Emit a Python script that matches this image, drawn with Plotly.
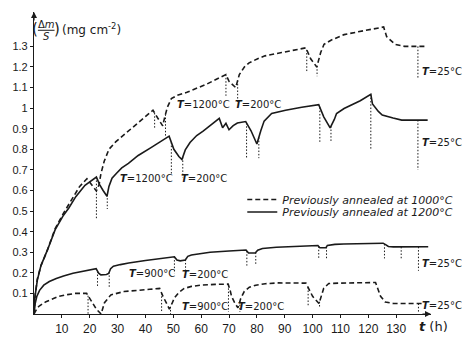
import numpy as np
import plotly.graph_objects as go

# ---- mass gain curves, time t in hours, Δm/S in mg cm^-2 ----
# upper dashed: previously annealed at 1000 °C, cycled 1200 °C / 200 °C
t_d1 = [0, 0.4, 1.2, 2.5, 4.8, 7.6, 10.6, 13.5, 16.4, 19.0, 20.6, 22.4,
        23.4, 24.0, 25.2, 26.9, 29.3, 32.8, 36.3, 39.8, 42.7,
        44.4, 46.2, 47.0, 47.9, 49.3, 51.4, 54.9, 61.9, 68.9,
        70.0, 72.4, 73.7, 75.5, 77.2, 80.3, 82.9, 88.9, 97.6,
        99.3, 101.5, 102.9, 104.1, 106.6, 111.3, 118.3, 125.5,
        126.6, 128.3, 129.6, 133.0, 141.0]
v_d1 = [0, 0.09, 0.17, 0.235, 0.31, 0.415, 0.49, 0.555, 0.62, 0.657, 0.63, 0.598,
        0.63, 0.68, 0.742, 0.80, 0.836, 0.875, 0.914, 0.955, 0.99,
        0.952, 0.914, 0.96, 1.005, 1.046, 1.062, 1.077, 1.116, 1.163,
        1.13, 1.10, 1.163, 1.20, 1.22, 1.24, 1.254, 1.27, 1.293,
        1.24, 1.20, 1.27, 1.31, 1.33, 1.357, 1.376, 1.394,
        1.347, 1.326, 1.31, 1.30, 1.30]

# upper solid: previously annealed at 1200 °C, cycled 1200 °C / 200 °C
t_s1 = [0, 0.3, 1.2, 2.5, 4.8, 7.6, 10.6, 12.5, 15.0, 18.3, 22.4,
        23.5, 24.8, 26.2, 26.9, 28.0, 29.8, 31.5, 33.9, 37.4, 42.0, 48.5,
        50.2, 52.0, 53.1, 54.3, 56.0, 58.4, 60.7, 63.6, 66.5,
        67.7, 68.9, 70.0, 71.5, 73.0, 76.0,
        77.9, 80.0, 81.4, 82.6, 85.3, 90.3, 96.1, 102.2,
        104.0, 106.3, 107.8, 108.6, 111.3, 113.3, 117.1, 120.9,
        121.5, 123.6, 125.0, 128.9, 132.0, 141.3]
v_s1 = [0, 0.08, 0.165, 0.235, 0.31, 0.41, 0.48, 0.515, 0.57, 0.625, 0.665,
        0.63, 0.60, 0.572, 0.62, 0.66, 0.686, 0.71, 0.732, 0.77, 0.808, 0.864,
        0.80, 0.765, 0.75, 0.797, 0.833, 0.867, 0.888, 0.92, 0.95,
        0.905, 0.926, 0.895, 0.915, 0.928, 0.935,
        0.89, 0.826, 0.89, 0.937, 0.974, 0.99, 1.004, 1.017,
        0.958, 0.904, 0.945, 0.974, 0.998, 1.012, 1.036, 1.067,
        1.02, 0.984, 0.966, 0.952, 0.942, 0.942]

# lower solid: cycled 900 °C / 200 °C
t_s2 = [0, 0.4, 1.0, 2.0, 3.5, 5.5, 8.0, 10.6, 14.0, 18.0, 22.3,
        23.2, 24.0, 26.0, 26.8, 27.5, 28.5, 31.0, 34.0, 40.0, 45.0, 50.4,
        51.3, 52.5, 54.3, 55.2, 56.5, 60.0, 63.2, 70.0, 76.1,
        77.0, 79.4, 80.3, 82.0, 87.0, 92.5, 101.9,
        102.6, 104.8, 105.3, 108.0, 111.2, 118.0, 125.3,
        126.2, 127.2, 129.0, 133.0, 141.5]
v_s2 = [0, 0.05, 0.085, 0.115, 0.14, 0.158, 0.172, 0.185, 0.198, 0.21, 0.22,
        0.198, 0.19, 0.192, 0.197, 0.22, 0.232, 0.24, 0.248, 0.26, 0.27, 0.278,
        0.262, 0.258, 0.262, 0.28, 0.287, 0.295, 0.30, 0.306, 0.311,
        0.296, 0.296, 0.31, 0.318, 0.324, 0.327, 0.333,
        0.322, 0.322, 0.333, 0.338, 0.34, 0.342, 0.344,
        0.337, 0.328, 0.326, 0.326, 0.327]

# lower dashed: cycled 900 °C / 200 °C
t_d2 = [0, 0.5, 1.2, 2.0, 4.3, 7.0, 9.0, 12.0, 14.8, 18.9,
        20.6, 22.4, 24.1, 25.3, 27.6, 32.3, 41.6, 45.1,
        46.3, 47.5, 48.6, 49.5, 50.4, 52.0, 53.9, 56.5, 59.8, 65.0, 69.7,
        70.4, 70.9, 72.0, 73.2, 74.2, 75.5, 77.3, 79.6, 83.0, 87.8, 97.6,
        99.0, 100.0, 102.3, 103.2, 104.0, 105.8, 109.6, 122.6,
        123.4, 124.4, 126.1, 129.0, 134.0, 140.0]
v_d2 = [0, 0.012, 0.03, 0.04, 0.06, 0.075, 0.086, 0.094, 0.10, 0.10,
        0.062, 0.023, 0.0, 0.055, 0.093, 0.109, 0.12, 0.124,
        0.086, 0.05, 0.024, 0.05, 0.078, 0.105, 0.124, 0.134, 0.14, 0.144, 0.145,
        0.115, 0.086, 0.055, 0.03, 0.075, 0.11, 0.13, 0.14, 0.147, 0.151, 0.15,
        0.115, 0.086, 0.051, 0.09, 0.125, 0.148, 0.15, 0.153,
        0.12, 0.086, 0.058, 0.051, 0.051, 0.051]

# temperature change marks: time and lower end of each dotted marker
drop_d1_t = [43.3, 47.2, 68.9, 73.1, 97.9, 101.6, 137.8]
drop_d1_v = [0.898, 0.859, 1.06, 1.03, 1.178, 1.155, 1.147]
drop_s1_t = [22.4, 26.3, 49.3, 53.4, 76.3, 80.7, 102.6, 106.6, 120.9, 137.8]
drop_s1_v = [0.46, 0.51, 0.68, 0.664, 0.757, 0.757, 0.833, 0.833, 0.80, 0.70]
drop_s2_t = [22.8, 27.0, 50.4, 54.4, 76.4, 79.6, 102.2, 105.0, 125.8, 131.8, 138.0]
drop_s2_v = [0.13, 0.13, 0.197, 0.197, 0.235, 0.235, 0.27, 0.27, 0.27, 0.27, 0.21]
drop_d2_t = [19.4, 45.8, 49.0, 69.8, 73.9, 98.4, 102.5, 138.0]
drop_d2_v = [0.0, 0.01, 0.0, 0.01, 0.01, 0.04, 0.035, 0.01]

# temperature labels: (text, t, value, anchor)
temp_labels = [
    ("1200°C", 61.0, 1.02, "center"), ("200°C", 80.3, 1.02, "center"),
    ("25°C", 138.6, 1.178, "left"),
    ("1200°C", 40.3, 0.657, "center"), ("200°C", 61.0, 0.657, "center"),
    ("25°C", 138.6, 0.835, "left"),
    ("900°C", 42.2, 0.197, "center"), ("200°C", 61.5, 0.19, "center"),
    ("25°C", 138.6, 0.245, "left"),
    ("900°C", 61.5, 0.035, "center"), ("200°C", 81.3, 0.035, "center"),
    ("25°C", 138.6, 0.04, "left"),
]

x_ticks = list(range(10, 140, 10))
y_ticks = [0.1, 0.2, 0.3, 0.4, 0.5, 0.6, 0.7, 0.8, 0.9, 1.0, 1.1, 1.2, 1.3]
y_ticktext = ["0.1", "0.2", "0.3", "0.4", "0.5", "0.6", "0.7", "0.8", "0.9",
              "1", "1.1", "1.2", "1.3"]

legend_names = ["<i>Previously annealed at 1000°C</i>",
                "<i>Previously annealed at 1200°C</i>"]

INK = "#1a1a1a"
DASH = "5px,3px"
DOT = "1.5px,1.8px"

fig = go.Figure()


def markers(t_curve, v_curve, drop_t, drop_v):
    xs, ys = [], []
    for t, vb in zip(drop_t, drop_v):
        vt = float(np.interp(t, t_curve, v_curve))
        xs += [t, t, None]
        ys += [vt, vb, None]
    return xs, ys


for tc, vc, dt, dv in [(t_d1, v_d1, drop_d1_t, drop_d1_v),
                       (t_s1, v_s1, drop_s1_t, drop_s1_v),
                       (t_s2, v_s2, drop_s2_t, drop_s2_v),
                       (t_d2, v_d2, drop_d2_t, drop_d2_v)]:
    mx, my = markers(tc, vc, dt, dv)
    fig.add_trace(go.Scatter(x=mx, y=my, mode="lines", showlegend=False,
                             hoverinfo="skip",
                             line=dict(color=INK, width=1, dash=DOT)))

fig.add_trace(go.Scatter(x=t_d1, y=v_d1, mode="lines", name=legend_names[0],
                         legend="legend",
                         line=dict(color=INK, width=1.6, dash=DASH)))
fig.add_trace(go.Scatter(x=t_s1, y=v_s1, mode="lines", name=legend_names[1],
                         legend="legend2",
                         line=dict(color=INK, width=1.6)))
fig.add_trace(go.Scatter(x=t_s2, y=v_s2, mode="lines", showlegend=False,
                         line=dict(color=INK, width=1.6)))
fig.add_trace(go.Scatter(x=t_d2, y=v_d2, mode="lines", showlegend=False,
                         line=dict(color=INK, width=1.6, dash=DASH)))

annotations = []
for txt, t, v, anchor in temp_labels:
    annotations.append(dict(x=t, y=v, xref="x", yref="y", showarrow=False,
                            xanchor=anchor, yanchor="middle",
                            text="<b><i>T</i></b>=" + txt,
                            font=dict(family="DejaVu Sans", size=10, color=INK)))

# axis arrow heads
annotations.append(dict(x=0, y=1, xref="paper", yref="paper", ax=0, ay=10,
                        showarrow=True, arrowhead=2, arrowsize=1,
                        arrowwidth=1.2, arrowcolor=INK, text=""))
annotations.append(dict(x=1, y=0, xref="paper", yref="paper", ax=-10, ay=0,
                        showarrow=True, arrowhead=2, arrowsize=1,
                        arrowwidth=1.2, arrowcolor=INK, text=""))

# axis titles
W, H = 470, 348
ML, MR, MT, MB = 31, 33, 12, 22
PW, PH = W - ML - MR, H - MT - MB


def px2paper(px, py):
    return (px - ML) / PW, (H - MB - py) / PH


lab_font = dict(family="DejaVu Sans", size=12, color=INK)
for txt, px, py, size in [("(", 32.5, 30, 15), (")", 54.5, 30, 15)]:
    xp, yp = px2paper(px, py)
    annotations.append(dict(x=xp, y=yp, xref="paper", yref="paper",
                            showarrow=False, text=txt, xanchor="center",
                            yanchor="middle",
                            font=dict(family="DejaVu Sans", size=size, color=INK)))
xp, yp = px2paper(43.5, 25)
annotations.append(dict(x=xp, y=yp, xref="paper", yref="paper", showarrow=False,
                        text="Δ<i>m</i>", xanchor="center", yanchor="middle",
                        font=dict(family="DejaVu Sans", size=10, color=INK)))
xp, yp = px2paper(43.5, 37)
annotations.append(dict(x=xp, y=yp, xref="paper", yref="paper", showarrow=False,
                        text="<i>S</i>", xanchor="center", yanchor="middle",
                        font=dict(family="DejaVu Sans", size=10, color=INK)))
xp, yp = px2paper(58, 30)
annotations.append(dict(x=xp, y=yp, xref="paper", yref="paper", showarrow=False,
                        text="(mg cm<sup>-2</sup>)", xanchor="left",
                        yanchor="middle", font=lab_font))
xp, yp = px2paper(423, 339)
annotations.append(dict(x=xp, y=yp, xref="paper", yref="paper", showarrow=False,
                        text="<b><i>t</i></b> (h)", xanchor="left",
                        yanchor="middle",
                        font=dict(family="DejaVu Sans", size=13, color=INK)))

bx0, by = px2paper(35, 31)
bx1, _ = px2paper(52, 31)
shapes = [dict(type="line", xref="paper", yref="paper", x0=bx0, x1=bx1,
               y0=by, y1=by, line=dict(color=INK, width=1))]

leg_font = dict(family="DejaVu Sans", size=11, color=INK)
lx, ly1 = px2paper(244, 207)
_, ly2 = px2paper(244, 220)
leg_common = dict(x=lx, xanchor="left", yanchor="middle",
                  bgcolor="rgba(0,0,0,0)", borderwidth=0, font=leg_font,
                  itemwidth=30)

fig.update_layout(
    width=W, height=H,
    margin=dict(l=ML, r=MR, t=MT, b=MB, pad=0),
    paper_bgcolor="white", plot_bgcolor="white",
    showlegend=True,
    legend=dict(y=ly1, **leg_common),
    legend2=dict(y=ly2, **leg_common),
    xaxis=dict(range=[0, 142.5], showgrid=False, zeroline=False,
               showline=True, linecolor=INK, linewidth=1.2,
               tickvals=x_ticks, ticks="outside", ticklen=3,
               tickcolor=INK, tickfont=dict(family="Liberation Sans", size=12,
                                            color=INK)),
    yaxis=dict(range=[0, 1.467], showgrid=False, zeroline=False,
               showline=True, linecolor=INK, linewidth=1.2,
               tickvals=y_ticks, ticktext=y_ticktext, ticks="outside",
               ticklen=3, tickcolor=INK,
               tickfont=dict(family="Liberation Sans", size=11, color=INK)),
    annotations=annotations,
    shapes=shapes,
)

fig.write_html("out.html")
